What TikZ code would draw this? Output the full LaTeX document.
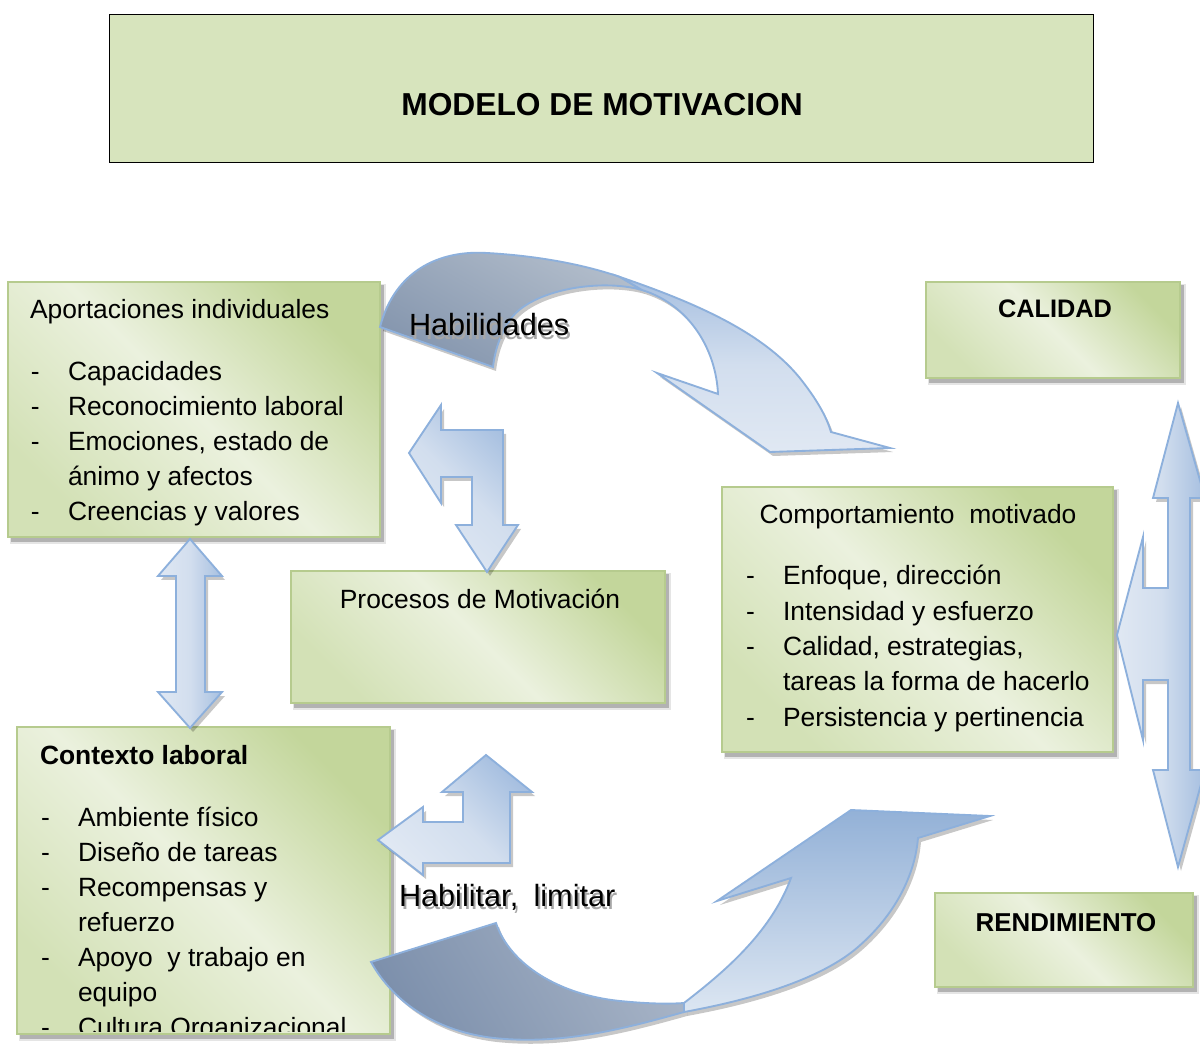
\documentclass[tikz,border=0pt]{standalone}
\usepackage{fontspec}
\setmainfont{Liberation Sans}
\definecolor{boxdark}{HTML}{C3D69B}
\definecolor{boxlight}{HTML}{EBF1DE}
\definecolor{boxmid}{HTML}{D3E1B6}
\definecolor{boxline}{HTML}{B6CB8E}
\definecolor{titlefill}{HTML}{D7E4BD}
\definecolor{arrline}{HTML}{8DB0DC}
\definecolor{aLight}{HTML}{E0E8F3}
\definecolor{aMid}{HTML}{D2DEEE}
\definecolor{aDark}{HTML}{A6BFE0}
\definecolor{tDarkA}{HTML}{8596AE}
\definecolor{tDarkB}{HTML}{B2BDCB}
\definecolor{bDarkA}{HTML}{7D90AC}
\definecolor{bDarkB}{HTML}{A6B3C6}
\definecolor{bLightTop}{HTML}{93B1D7}
\definecolor{bLightBot}{HTML}{DCE6F2}
\definecolor{txtshadow}{HTML}{A6A6A6}
\newcommand\pUB{(409,453) -- (441,405) -- (441,430) -- (503,430) -- (503,525) -- (518,525) -- (487,572) -- (456,525) -- (472,525) -- (472,477) -- (441,477) -- (441,503) -- cycle}
\newcommand\pLB{(486,755) -- (532,792) -- (510,792) -- (510,863) -- (423,863) -- (423,875) -- (378,840) -- (423,807) -- (423,822) -- (463,822) -- (463,792) -- (442,792) -- cycle}
\newcommand\pRA{(1178,403) -- (1205,498) -- (1190,498) -- (1190,770) -- (1205,770) -- (1178,867) -- (1153,770) -- (1168,770) -- (1168,680) -- (1143,680) -- (1143,740) -- (1117,635) -- (1143,537) -- (1143,588) -- (1168,588) -- (1168,498) -- (1153,498) -- cycle}
\newcommand\pVA{(190,539) -- (222,576) -- (205,576) -- (205,692) -- (222,692) -- (190,728) -- (158,692) -- (176,692) -- (176,576) -- (158,576) -- cycle}
% top curved arrow: dark back part and light front part
\newcommand\pTD{(380,327) .. controls (395,270) and (440,250) .. (487,253) .. controls (540,256) and (585,265) .. (620,277) -- (642,290) .. controls (600,278) and (530,290) .. (510,320) .. controls (500,335) and (495,350) .. (493,367) -- cycle}
\newcommand\pTL{(620,277) .. controls (690,301) and (760,330) .. (799,377) .. controls (815,397) and (826,415) .. (831,432) -- (890,448) -- (770,452) -- (657,373) -- (718,394) .. controls (716,350) and (690,305) .. (642,290) -- cycle}
% bottom curved arrow
\newcommand\pBD{(371,962) -- (496,923) .. controls (510,965) and (560,995) .. (620,1001) .. controls (650,1004) and (670,1004) .. (684,1003) -- (684,1012) .. controls (620,1030) and (560,1045) .. (494,1038) .. controls (440,1032) and (395,1005) .. (371,962) -- cycle}
\newcommand\pBL{(684,1003) .. controls (720,975) and (770,935) .. (791,878) -- (717,901) -- (851,810) -- (990,816) -- (918,838) .. controls (915,875) and (895,915) .. (858,947) .. controls (820,980) and (750,1000) .. (684,1012) -- cycle}
\newcommand\bshadow[4]{%
  \fill[black,opacity=0.10] (#1+2,#2+2) rectangle (#3+6,#4+7);
  \fill[black,opacity=0.22] (#1+3,#2+3) rectangle (#3+4,#4+5);}
\newcommand\shadowtext[1]{\rlap{\hspace{1.5pt}\raisebox{-2.3pt}{\color{txtshadow}#1}}#1}
\begin{document}
\begin{tikzpicture}[x=0.75pt,y=-0.75pt,
  gbox/.style={rectangle, inner sep=0pt, outer sep=0pt, anchor=north west,
    draw=boxline, line width=1.1pt,
    top color=boxdark, bottom color=boxmid, middle color=boxlight, shading angle=-45},
  ablock/.style={draw=arrline, line width=1.4pt, line join=miter},
  ashadow/.style={fill=black, opacity=0.22},
  txt/.style={inner sep=0pt, outer sep=0pt, anchor=base west,
    font=\fontsize{19.8}{24}\selectfont},
  btxt/.style={txt, font=\bfseries\fontsize{19.8}{24}\selectfont},
  lbl/.style={inner sep=0pt, outer sep=0pt, anchor=base west,
    font=\fontsize{23}{28}\selectfont}]
\useasboundingbox (0,0) rectangle (1200,1044);
\fill[white] (0,0) rectangle (1200,1044);
\clip (0,0) rectangle (1200,1044);

% title
\node[rectangle, anchor=north west, inner sep=0pt, minimum width=738pt, minimum height=111pt,
  fill=titlefill, draw=black, line width=1.1pt] (title) at (109,14) {};
\node[inner sep=0pt, font=\bfseries\fontsize{23.8}{28}\selectfont] (titleT) at (602,105) {MODELO DE MOTIVACION};

% green boxes
\bshadow{8}{282}{380}{537}
\node[gbox, minimum width=279pt, minimum height=191.25pt] (ap) at (8,282) {};
\bshadow{291}{571}{665}{703}
\node[gbox, minimum width=280.5pt, minimum height=99pt] (pm) at (291,571) {};
\bshadow{722}{487}{1113}{752}
\node[gbox, minimum width=293.25pt, minimum height=198.75pt] (cm) at (722,487) {};
\bshadow{17}{727}{390}{1034}
\node[gbox, minimum width=279.75pt, minimum height=230.25pt] (cl) at (17,727) {};
\bshadow{926}{282}{1180}{378}
\node[gbox, minimum width=190.5pt, minimum height=72pt] (ca) at (926,282) {};
\bshadow{935}{893}{1193}{987}
\node[gbox, minimum width=193.5pt, minimum height=70.5pt] (re) at (935,893) {};

% block arrows: shadows
\begin{scope}[shift={(3,4)}]
  \fill[ashadow] \pUB;
  \fill[ashadow] \pLB;
  \fill[ashadow] \pRA;
  \fill[ashadow] \pVA;
  \fill[ashadow] \pTD;
  \fill[ashadow] \pTL;
  \fill[ashadow] \pBD;
  \fill[ashadow] \pBL;
\end{scope}

% block arrows
\shade[ablock, top color=aDark, bottom color=aLight, middle color=aMid, shading angle=-45] \pUB;
\shade[ablock, top color=aDark, bottom color=aLight, middle color=aMid, shading angle=-45] \pLB;
\shade[ablock, top color=aDark, bottom color=aLight, middle color=aMid, shading angle=-90] \pRA;
\shade[ablock, top color=aDark, bottom color=aLight, middle color=aMid, shading angle=-90] \pVA;
\shade[ablock, top color=tDarkB, bottom color=tDarkA, shading angle=-30] \pTD;
\shade[ablock, top color=aDark, bottom color=aLight, middle color=aMid] \pTL;
\shade[ablock, top color=bDarkB, bottom color=bDarkA, shading angle=-60] \pBD;
\shade[ablock, top color=bLightTop, bottom color=bLightBot] \pBL;

% arrow labels
\node[lbl] (hab) at (409,336) {\shadowtext{Habilidades}};
\node[lbl] (hl) at (399,906) {\shadowtext{Habilitar,\hspace{0.5em}limitar}};

% Aportaciones individuales
\node[txt] (apT) at (30,319) {Aportaciones individuales};
\node[txt] (apD1) at (31,381) {-}; \node[txt] (ap1) at (68,381) {Capacidades};
\node[txt] (apD2) at (31,416) {-}; \node[txt] (ap2) at (68,416) {Reconocimiento laboral};
\node[txt] (apD3) at (31,451) {-}; \node[txt] (ap3) at (68,451) {Emociones, estado de};
\node[txt] (ap4) at (68,486) {ánimo y afectos};
\node[txt] (apD5) at (31,521) {-}; \node[txt] (ap5) at (68,521) {Creencias y valores};

% Procesos
\node[txt, anchor=base] (pmT) at (480,609) {Procesos de Motivación};

% Comportamiento motivado
\node[txt, anchor=base] (cmT) at (918,524) {Comportamiento\ \ motivado};
\node[txt] (cmD1) at (746,585) {-}; \node[txt] (cm1) at (783,585) {Enfoque, dirección};
\node[txt] (cmD2) at (746,620) {-}; \node[txt] (cm2) at (783,620) {Intensidad y esfuerzo};
\node[txt] (cmD3) at (746,656) {-}; \node[txt] (cm3) at (783,656) {Calidad, estrategias,};
\node[txt] (cm4) at (783,691) {tareas la forma de hacerlo};
\node[txt] (cmD5) at (746,726) {-}; \node[txt] (cm5) at (783,726) {Persistencia y pertinencia};

% Contexto laboral
\begin{scope}
\clip (17,727) rectangle (390,1031);
\node[btxt] (clT) at (40,764) {Contexto laboral};
\node[txt] (clD1) at (41,826) {-}; \node[txt] (cl1) at (78,826) {Ambiente físico};
\node[txt] (clD2) at (41,861) {-}; \node[txt] (cl2) at (78,861) {Diseño de tareas};
\node[txt] (clD3) at (41,896) {-}; \node[txt] (cl3) at (78,896) {Recompensas y};
\node[txt] (cl4) at (78,931) {refuerzo};
\node[txt] (clD5) at (41,966) {-}; \node[txt] (cl5) at (78,966) {Apoyo\ \ y trabajo en};
\node[txt] (cl6) at (78,1001) {equipo};
\node[txt] (clD7) at (41,1036) {-}; \node[txt] (cl7) at (78,1036) {Cultura Organizacional};
\end{scope}

% CALIDAD / RENDIMIENTO
\node[inner sep=0pt, font=\bfseries\fontsize{19}{23}\selectfont] (caT) at (1055,309) {CALIDAD};
\node[inner sep=0pt, font=\bfseries\fontsize{19.4}{23}\selectfont] (reT) at (1066,923) {RENDIMIENTO};
\end{tikzpicture}
\end{document}
